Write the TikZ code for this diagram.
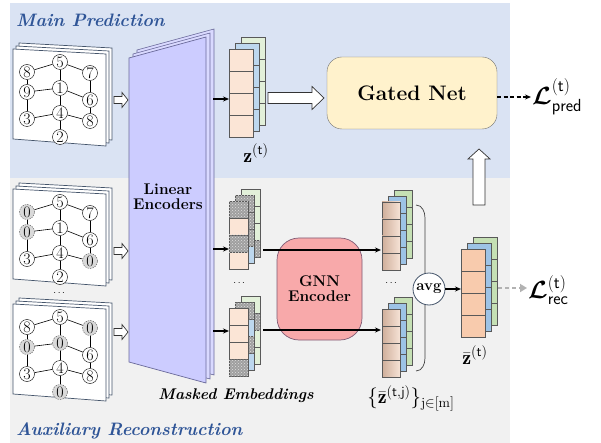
\documentclass[tikz,border=0pt]{standalone}
\usepackage{amsmath}
\usepackage{fontspec}
\usetikzlibrary{patterns,arrows.meta}

\definecolor{panelblue}{HTML}{DAE3F3}
\definecolor{panelgray}{HTML}{F1F1F1}
\definecolor{titleblue}{HTML}{2F5597}
\definecolor{encfill}{HTML}{CCCCFF}
\definecolor{encline}{HTML}{6A6A9A}
\definecolor{peach}{HTML}{FBE5D6}
\definecolor{peachdark}{HTML}{F8CBAD}
\definecolor{lblue}{HTML}{BDD7EE}
\definecolor{mblue}{HTML}{9DC3E6}
\definecolor{lgreen}{HTML}{E2F0D9}
\definecolor{mgreen}{HTML}{C5E0B4}
\definecolor{tanleft}{HTML}{CFAE9A}
\definecolor{tanright}{HTML}{F6E3D6}
\definecolor{gatefill}{HTML}{FFF2CC}
\definecolor{gnnfill}{HTML}{F8A9AA}
\definecolor{gnnline}{HTML}{7F5A74}
\definecolor{edgegray}{HTML}{44546A}

\tikzset{
  title/.style={font=\fontsize{18}{20}\selectfont\bfseries\itshape, text=titleblue, inner sep=0pt},
  card/.style={draw=edgegray, fill=white, line width=0.7pt},
  gn/.style={circle, draw, fill=white, inner sep=0pt, minimum size=15pt, font=\fontsize{16}{16}\selectfont},
  gm/.style={gn, draw=gray!70!black, fill=gray!30, dash pattern=on 1.5pt off 1pt},
  openarr/.style={draw=black!80, fill=white, line width=0.7pt, line join=miter},
  arr/.style={-{Stealth[length=6pt,width=5pt]}, line width=1.2pt},
  cell/.style={draw=black!65, line width=0.6pt},
  masked/.style={cell, fill=gray!75, postaction={pattern=crosshatch dots, pattern color=gray!25}},
  z front/.style={cell, fill=peach}, z mid/.style={cell, fill=lblue}, z back/.style={cell, fill=lgreen},
  m front/.style={cell, fill=peach}, m mid/.style={cell, fill=lblue}, m back/.style={cell, fill=lgreen},
  o front/.style={cell, left color=tanleft, right color=tanright}, o mid/.style={cell, fill=mblue}, o back/.style={cell, fill=mgreen},
  f front/.style={cell, fill=peachdark}, f mid/.style={cell, fill=mblue}, f back/.style={cell, fill=mgreen},
  slot/.style={inner sep=0pt, anchor=north west},
  boldlab/.style={font=\fontsize{15.5}{18}\selectfont\bfseries, align=center},
  mathlab/.style={font=\fontsize{20}{22}\selectfont},
  losslab/.style={font=\fontsize{25}{27}\selectfont, anchor=west, inner sep=1pt}
}

% one column of four cells: x, y, width, cell height, style, masked cells (0 = none)
\newcommand{\embcol}[6]{%
  \foreach \k in {1,...,4}
    \draw[#5] (#1,#2+\k*#4-#4) rectangle ++(#3,#4);
  \foreach \k in {#6}
    {\ifnum\k>0 \draw[masked] (#1,#2+\k*#4-#4) rectangle ++(#3,#4);\fi}
}
% three stacked columns: x, y, width, cell height, colour set, masks front/mid/back
\newcommand{\embstack}[8]{%
  \embcol{#1+12}{#2-12}{#3}{#4}{#5 back}{#8}
  \embcol{#1+6}{#2-6}{#3}{#4}{#5 mid}{#7}
  \embcol{#1}{#2}{#3}{#4}{#5 front}{#6}
}
% hollow block arrow: x, y of the tail, angle, length, shaft, head width, head length
\newcommand{\blockarrow}[7]{%
  \draw[openarr, shift={(#1,#2)}, rotate=#3]
    (0,-#5/2) -- (#4-#7,-#5/2) -- (#4-#7,-#6/2) -- (#4,0) -- (#4-#7,#6/2) -- (#4-#7,#5/2) -- (0,#5/2) -- cycle;
}
% a small graph drawn on a pile of sheets: name, vertical shift, vertex labels/styles
\newcommand{\graphcard}[3]{%
  \begin{scope}[shift={(0,#2)}]
    \foreach \d in {6,3,0}
      \draw[card] (13+\d,49-\d) -- (106+\d,54-\d) -- (106+\d,146-\d) -- (13+\d,139-\d) -- cycle;
    \foreach \x/\y [count=\i] in {60/62,27/72,90/73,27/92,60/88,90/100,27/119,60/113,90/121,60/137}
      \coordinate (#1p\i) at (\x,\y);
    \foreach \t/\s [count=\i] in {#3}
      \node[\s] (#1n\i) at (#1p\i) {\t};
    \foreach \u/\v in {1/2,1/3,1/5,2/4,4/5,5/6,3/6,4/7,5/8,7/8,8/9,6/9,8/10}
      \draw[line width=0.6pt] (#1n\u) -- (#1n\v);
  \end{scope}}

\begin{document}
\begin{tikzpicture}[x=1pt,y=-1pt]
  \useasboundingbox (0,0) rectangle (601,443);
  % two panels
  \fill[panelblue] (10,3) rectangle (510,178);
  \fill[panelgray] (10,178) rectangle (510,443);
  \node[title, anchor=base west] (mainp) at (16,27) {Main Prediction};
  \node[title, anchor=base west] (auxr) at (16,435) {Auxiliary Reconstruction};

  % input graphs
  \graphcard{ga}{0}{5/gn,8/gn,7/gn,9/gn,1/gn,6/gn,3/gn,4/gn,8/gn,2/gn}
  \graphcard{gb}{140}{5/gn,0/gm,7/gn,0/gm,1/gn,6/gn,3/gn,4/gn,0/gm,2/gn}
  \graphcard{gc}{255}{5/gn,8/gn,0/gm,0/gm,0/gm,6/gn,3/gn,4/gn,8/gn,0/gm}
  \node (gdots) at (60,293) {$\cdots$};
  \foreach \y in {100,251,332}
    {\blockarrow{114}{\y}{0}{14}{7}{15}{6}}

  % linear encoders
  \foreach \d in {8,4}
    \draw[encline, fill=encfill!75, line width=0.6pt] (129+\d,58-\d) -- (206+\d,37-\d) -- (206+\d,383-\d) -- (129+\d,362-\d) -- cycle;
  \draw[encline, fill=encfill, line width=0.7pt] (129,58) -- (206,37) -- (206,383) -- (129,362) -- cycle;
  \node[boldlab] (enc) at (168,197) {Linear\\[-3pt]Encoders};
  \coordinate (ea) at (213,99);
  \coordinate (eb) at (213,249);
  \coordinate (ec) at (213,331);

  % embeddings
  \embstack{229}{49}{24}{22}{z}{0}{0}{0}
  \node[slot, minimum width=24pt, minimum height=88pt] (zt) at (229,49) {};
  \embstack{229}{201}{19}{17}{m}{1,3}{1,2,3}{4}
  \node[slot, minimum width=19pt, minimum height=68pt] (ma) at (229,201) {};
  \embstack{229}{308}{19}{17}{m}{4}{1,3}{2}
  \node[slot, minimum width=19pt, minimum height=68pt] (mb) at (229,308) {};
  \node (mdots) at (240,283) {$\cdots$};
  \draw[arr] (ea) -- (ea -| zt.west);
  \draw[arr] (eb) -- (eb -| ma.west);
  \draw[arr] (ec) -- (ec -| mb.west);
  \node[mathlab] (zlab) at (256,153) {$\mathbf{z}^{\mathsf{(t)}}$};
  \node[font=\fontsize{15.5}{18}\selectfont\bfseries\itshape] (mlab) at (236,396) {Masked Embeddings};

  % gated net
  \blockarrow{268}{98}{0}{56}{11}{23}{12}
  \node[draw=black!55, fill=gatefill, rounded corners=15pt, minimum width=170pt, minimum height=72pt,
        font=\fontsize{21}{23}\selectfont\bfseries] (gate) at (412,93) {Gated Net};
  \node[losslab] (lpred) at (531,97) {$\boldsymbol{\mathcal{L}}^{\mathsf{(t)}}_{\mathsf{pred}}$};
  \draw[arr, dash pattern=on 4pt off 2.5pt] ([yshift=-4pt]gate.east) -- ([yshift=-4pt]gate.east -| lpred.west);
  \blockarrow{479}{205}{90}{56}{12}{22}{10}

  % gnn encoder
  \node[draw=gnnline, fill=gnnfill, rounded corners=22pt, minimum width=85pt, minimum height=102pt, line width=0.7pt,
        boldlab] (gnn) at (319.5,289) {GNN\\[-3pt]Encoder};
  \embstack{382}{202}{18}{17}{o}{0}{0}{0}
  \node[slot, minimum width=18pt, minimum height=68pt] (oa) at (382,202) {};
  \embstack{382}{309}{18}{17}{o}{0}{0}{0}
  \node[slot, minimum width=18pt, minimum height=68pt] (ob) at (382,309) {};
  \node (odots) at (392,283) {$\cdots$};
  \coordinate (ga) at (263,250);
  \coordinate (gb) at (263,330);
  \draw[arr, shorten >=1pt] (ga) -- (ga -| oa.west);
  \draw[arr, shorten >=1pt] (gb) -- (gb -| ob.west);
  \node[mathlab] (zset) at (411,398) {$\{\bar{\mathbf{z}}^{\mathsf{(t,j)}}\}_{\mathrm{j\in[m]}}$};

  % averaging
  \draw[line width=0.7pt, black!75] (416,205) to[out=0,in=90] (425,218) -- (425,358) to[out=-90,in=0] (416,371);
  \node[circle, draw=edgegray, fill=white, line width=0.8pt, minimum size=32pt, inner sep=0pt,
        font=\fontsize{15}{15}\selectfont\bfseries] (avg) at (429,289) {avg};
  \embstack{461}{249}{24}{22}{f}{0}{0}{0}
  \node[slot, minimum width=24pt, minimum height=88pt] (zf) at (461,249) {};
  \draw[arr] (avg.east) -- (avg.east -| zf.west);
  \node[mathlab] (zbar) at (475,355) {$\bar{\mathbf{z}}^{\mathsf{(t)}}$};
  \node[losslab] (lrec) at (527,290) {$\boldsymbol{\mathcal{L}}^{\mathsf{(t)}}_{\mathsf{rec}}$};
  \coordinate (rec0) at (498,288);
  \draw[-{Triangle[length=7pt,width=8pt]}, gray!60, line width=2pt, dash pattern=on 4pt off 3pt] (rec0) -- (rec0 -| lrec.west);
\end{tikzpicture}
\end{document}
